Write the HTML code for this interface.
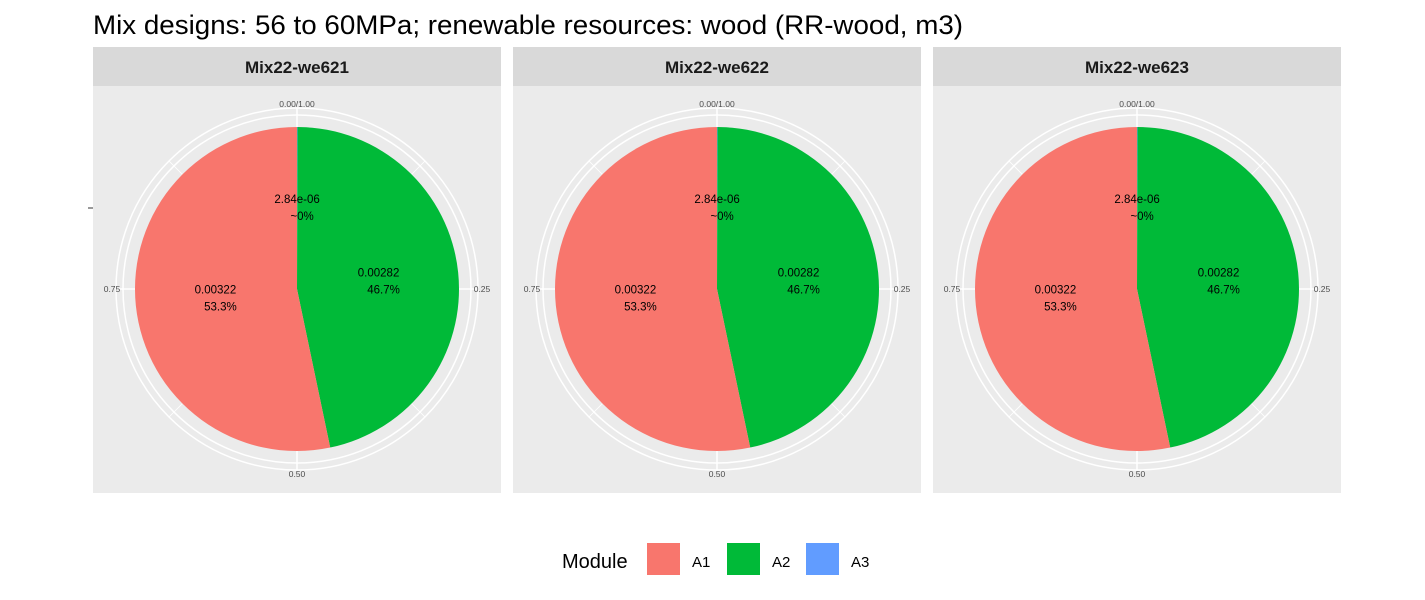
<!DOCTYPE html>
<html><head><meta charset="utf-8"><style>body{margin:0;background:#fff}svg{display:block;font-family:"Liberation Sans",Arial,sans-serif}</style></head>
<body>
<svg id="chart" width="1425" height="600" viewBox="0 0 1425 600">
<text x="93" y="34" font-size="26.5" textLength="870" lengthAdjust="spacingAndGlyphs" fill="#000">Mix designs: 56 to 60MPa; renewable resources: wood (RR-wood, m3)</text>
<line x1="88" y1="208" x2="93" y2="208" stroke="#333" stroke-width="1"/>
<g id="panels"></g>
<g>
<text x="562" y="568" font-size="20" fill="#000">Module</text>
<rect x="647" y="543" width="33" height="32" fill="#F8766D"/>
<text x="692" y="567" font-size="15">A1</text>
<rect x="727" y="543" width="33" height="32" fill="#00BA38"/>
<text x="772" y="567" font-size="15">A2</text>
<rect x="806" y="543" width="33" height="32" fill="#619CFF"/>
<text x="851" y="567" font-size="15">A3</text>
</g>
</svg>
<script>
const panelNames = ["Mix22-we621","Mix22-we622","Mix22-we623"];
const modules = ["A3","A2","A1"];
const values = [0.00000284, 0.00282, 0.00322];
const valueLabels = ["2.84e-06","0.00282","0.00322"];
const pctLabels = ["~0%","46.7%","53.3%"];
const colors = {A1:"#F8766D",A2:"#00BA38",A3:"#619CFF"};
const tickVals = [0,0.25,0.5,0.75];
const tickLabels = ["0.00/1.00","0.25","0.50","0.75"];
const NS="http://www.w3.org/2000/svg";
const g=document.getElementById('panels');
function mk(t,a,p){const e=document.createElementNS(NS,t);for(const k in a)e.setAttribute(k,a[k]);(p||g).appendChild(e);return e;}
const total=values.reduce((a,b)=>a+b,0);
const R=162, cy=289;
function pt(cx,f,r){const a=f*2*Math.PI;return [cx+r*Math.sin(a),cy-r*Math.cos(a)];}
panelNames.forEach((name,i)=>{
  const x0=93+i*420, cx=x0+204;
  const pg=mk('g',{});
  
  
  const strip=mk('rect',{x:x0,y:47,width:408,height:39,fill:'#D9D9D9'},pg);
  
  
  const st=mk('text',{x:cx,y:73,'font-size':17,'font-weight':'bold','text-anchor':'middle',fill:'#1a1a1a'},pg);
  st.textContent=name;
  
  
  const bg=mk('rect',{x:x0,y:86,width:408,height:407,fill:'#EBEBEB'},pg);
  
  
  for(let k=0;k<8;k++){const [x,y]=pt(cx,k/8,181);const l=mk('line',{x1:cx,y1:cy,x2:x,y2:y,stroke:'#fff','stroke-width':k%2?0.8:1.5},pg);}
  [181,174].forEach(r=>{const c=mk('circle',{cx:cx,cy:cy,r:r,fill:'none',stroke:'#fff','stroke-width':1.5},pg);});
  let cum=0;
  values.forEach((v,j)=>{
    const f0=cum/total, f1=(cum+v)/total; cum+=v;
    const [x1,y1]=pt(cx,f0,R),[x2,y2]=pt(cx,f1,R);
    const large=(f1-f0)>0.5?1:0;
    const s=mk('path',{d:`M${cx},${cy}L${x1},${y1}A${R},${R} 0 ${large} 1 ${x2},${y2}Z`,fill:colors[modules[j]]},pg);
    
    
  });
  cum=0;
  values.forEach((v,j)=>{
    const fm=(cum+v/2)/total; cum+=v;
    const [lx,ly]=pt(cx,fm,82);
    const t=mk('text',{x:lx,y:ly-4,'font-size':11.5,'text-anchor':'middle',fill:'#000'},pg);
    t.textContent=valueLabels[j];
    
    
    const t2=mk('text',{x:lx+5,y:ly+13,'font-size':11.5,'text-anchor':'middle',fill:'#000'},pg);
    t2.textContent=pctLabels[j];
    
    
  });
  tickVals.forEach((tv,k)=>{
    const [tx,ty]=pt(cx,tv,185);
    const t=mk('text',{x:tx,y:ty+3,'font-size':8.5,'text-anchor':'middle',fill:'#4D4D4D'},pg);
    t.textContent=tickLabels[k];
    
    
  });
});
</script>
</body></html>
